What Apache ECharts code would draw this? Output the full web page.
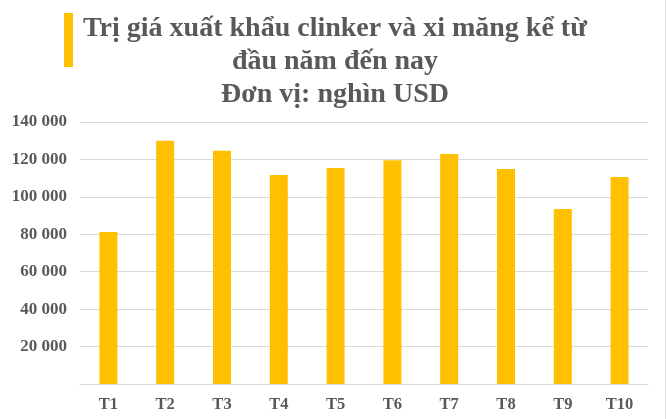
<!DOCTYPE html>
<html>
<head>
<meta charset="utf-8">
<script src="https://cdn.jsdelivr.net/npm/echarts@6/dist/echarts.min.js"></script>
<style>html,body{margin:0;padding:0;background:#fff;}#c{width:667px;height:419px;}</style>
</head>
<body>
<div id="c"></div>
<script>
const categories = ['T1','T2','T3','T4','T5','T6','T7','T8','T9','T10'];
const values = [81200, 130000, 124600, 111700, 115400, 119600, 122900, 114900, 93500, 110600];
const titleLines = ['Trị giá xuất khẩu clinker và xi măng kể từ', 'đầu năm đến nay', 'Đơn vị: nghìn USD'];

const chart = echarts.init(document.getElementById('c'));
const font = '"Liberation Serif", "Times New Roman", serif';
chart.setOption({
  backgroundColor: '#ffffff',
  animation: false,
  title: {
    text: titleLines.join('\n'),
    left: 330,
    top: 7,
    textAlign: 'center',
    textStyle: { fontFamily: font, fontWeight: 'bold', fontSize: 28, color: '#595959', lineHeight: 33 }
  },
  graphic: [
    { type: 'rect', shape: { x: 64, y: 13, width: 9, height: 54 }, style: { fill: '#FFC000' } },
    { type: 'line', shape: { x1: 665.5, y1: 0, x2: 665.5, y2: 419 }, style: { stroke: '#e3e3e3', lineWidth: 1 } }
  ],
  grid: { left: 80, right: 19, top: 122, bottom: 35 },
  xAxis: {
    type: 'category',
    data: categories,
    axisLine: { lineStyle: { color: '#d9d9d9' } },
    axisTick: { show: false },
    axisLabel: { fontFamily: font, fontWeight: 'bold', fontSize: 16.5, color: '#595959', margin: 12 }
  },
  yAxis: {
    type: 'value',
    min: 0, max: 140000, interval: 20000,
    axisLine: { show: false },
    axisTick: { show: false },
    splitLine: { lineStyle: { color: '#d9d9d9' } },
    axisLabel: {
      fontFamily: font, fontWeight: 'bold', fontSize: 17, color: '#595959', margin: 13,
      formatter: v => v === 0 ? '' : String(v).replace(/\B(?=(\d{3})+(?!\d))/g, ' ')
    }
  },
  series: [{
    type: 'bar',
    data: values,
    barWidth: 18,
    itemStyle: { color: '#FFC000' }
  }]
});
</script>
</body>
</html>
